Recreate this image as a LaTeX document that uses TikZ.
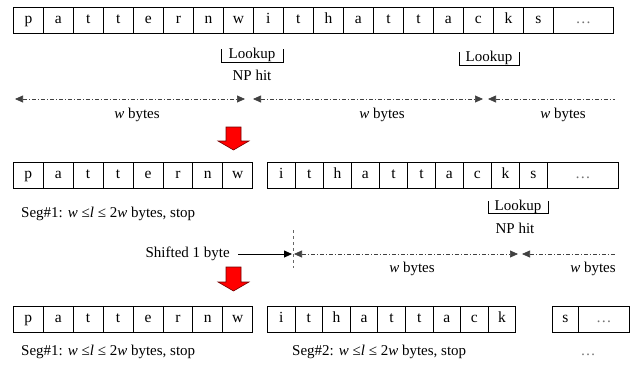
\documentclass[tikz,border=0pt]{standalone}
\usepackage{fontspec}
\setmainfont{Liberation Serif}
\usetikzlibrary{arrows.meta}
\begin{document}
\begin{tikzpicture}[x=1pt,y=-1pt,
  txt/.style={font=\fontsize{15}{17}\selectfont, inner sep=0pt},
  cellbox/.style={draw, line width=0.8pt, minimum height=26pt, inner sep=0pt,
    anchor=north west, text height=1.5ex, text depth=0.3ex,
    font=\fontsize{15.5}{17}\selectfont},
  dots/.style={text=black!55},
  wline/.style={line width=0.7pt, black!75, dash pattern=on 4pt off 2pt on 1pt off 2pt},
  headtip/.tip={Triangle[length=8pt,width=7pt]},
  bracket/.style={line width=0.7pt},
  redarrow/.style={fill=red, draw=red!45!black, line width=0.6pt}
]
\useasboundingbox (0,0) rectangle (635,368);

% ---------- row 1: unsegmented stream ----------
\foreach \ch [count=\i from 0] in {p,a,t,t,e,r,n,w,i,t,h,a,t,t,a,c,k,s}
  \node[cellbox, minimum width=30pt] (ra\i) at ({13+30*\i},7) {\ch};
\node[cellbox, minimum width=60pt, dots] (radots) at (553,7) {…};

\node[txt] (lkA) at (252,55) {Lookup};
\draw[bracket] (221,49) |- (283,62) -- (283,49);
\node[txt] (npA) at (252,75) {NP hit};
\node[txt] (lkB) at (489,58) {Lookup};
\draw[bracket] (459,52) |- (519,65) -- (519,52);

\coordinate (a1) at (15,99);  \coordinate (a2) at (245,99);
\coordinate (a3) at (253,99); \coordinate (a4) at (483,99);
\coordinate (a5) at (488,99); \coordinate (a6) at (615,99);
\draw[wline, headtip-headtip] (a1) -- (a2);
\draw[wline, headtip-headtip] (a3) -- (a4);
\draw[wline, headtip-] (a5) -- (a6);
\node[txt] (wA) at (137,115) {\textit{w} bytes};
\node[txt] (wB) at (382,115) {\textit{w} bytes};
\node[txt] (wC) at (563,115) {\textit{w} bytes};

% ---------- first step arrow ----------
\draw[redarrow] (226,127) -- (241,127) -- (241,141) -- (249,141) -- (233.5,150)
  -- (218,141) -- (226,141) -- cycle;

% ---------- row 2: first segment cut ----------
\foreach \ch [count=\i from 0] in {p,a,t,t,e,r,n,w}
  \node[cellbox, minimum width=29.9pt] (rb\i) at ({13+29.9*\i},162) {\ch};
\foreach \ch [count=\i from 0] in {i,t,h,a,t,t,a,c,k,s}
  \node[cellbox, minimum width=28pt] (rc\i) at ({267+28*\i},162) {\ch};
\node[cellbox, minimum width=71pt, dots] (rcdots) at (547,162) {…};

\node[txt, anchor=west] (segA) at (21,214) {Seg\#1: \textit{w} ≤\textit{l} ≤ 2\textit{w} bytes, stop};
\node[txt] (lkC) at (518,207) {Lookup};
\draw[bracket] (488,201) |- (548,213) -- (548,201);
\node[txt] (npC) at (515,228) {NP hit};

\node[txt, anchor=east] (shift) at (230,254) {Shifted 1 byte};
\coordinate (s1) at (238,254); \coordinate (s2) at (292,254);
\draw[line width=0.8pt, -headtip] (s1) -- (s2);
\coordinate (v1) at (293,230); \coordinate (v2) at (293,268);
\draw[line width=0.8pt, black!60, dash pattern=on 3pt off 3pt] (v1) -- (v2);
\coordinate (b1) at (294,254); \coordinate (b2) at (518,254);
\coordinate (b3) at (522,254); \coordinate (b4) at (615,254);
\draw[wline, headtip-headtip] (b1) -- (b2);
\draw[wline, headtip-] (b3) -- (b4);
\node[txt] (wD) at (412,269) {\textit{w} bytes};
\node[txt] (wE) at (593,269) {\textit{w} bytes};

% ---------- second step arrow ----------
\draw[redarrow] (226,267) -- (241,267) -- (241,282) -- (249,282) -- (233.5,291)
  -- (218,282) -- (226,282) -- cycle;

% ---------- row 3: two segments ----------
\foreach \ch [count=\i from 0] in {p,a,t,t,e,r,n,w}
  \node[cellbox, minimum width=29.9pt] (rd\i) at ({13+29.9*\i},306) {\ch};
\foreach \ch [count=\i from 0] in {i,t,h,a,t,t,a,c,k}
  \node[cellbox, minimum width=27.6pt] (re\i) at ({267+27.6*\i},306) {\ch};
\node[cellbox, minimum width=26pt] (rf0) at (552,306) {s};
\node[cellbox, minimum width=51pt, dots] (rfdots) at (578,306) {…};

\node[txt, anchor=west] (segB) at (21,352) {Seg\#1: \textit{w} ≤\textit{l} ≤ 2\textit{w} bytes, stop};
\node[txt, anchor=west] (segC) at (292,352) {Seg\#2: \textit{w} ≤\textit{l} ≤ 2\textit{w} bytes, stop};
\node[txt, dots] (tail) at (588,355) {…};
\end{tikzpicture}
\end{document}
